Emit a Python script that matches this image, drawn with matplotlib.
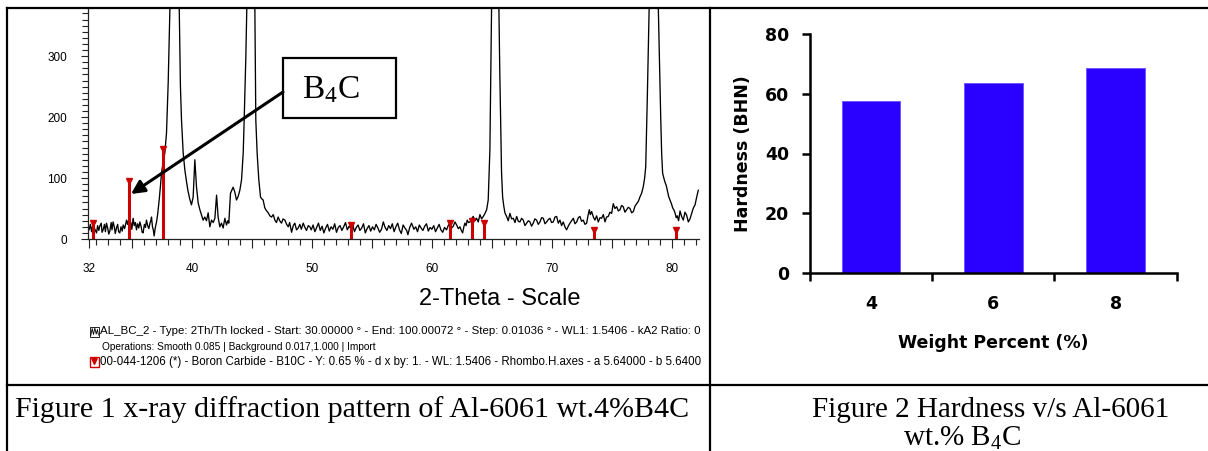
import matplotlib
matplotlib.use("Agg")
import matplotlib.pyplot as plt
from matplotlib.patches import Rectangle, Polygon
from matplotlib.ticker import MultipleLocator, FixedLocator

plt.rcParams['font.family'] = ['Liberation Sans', 'DejaVu Sans']
plt.rcParams['mathtext.fontset'] = 'custom'
plt.rcParams['mathtext.rm'] = 'Liberation Serif'
plt.rcParams['mathtext.it'] = 'Liberation Serif:italic'

# ---- XRD scan, (2-theta deg, counts) ----
scan_start = [
    (31.36, 20), (31.44, 15), (31.55, 24), (31.65, 12), (31.78, 26), (31.90, 17),
    (32.06, 10), (32.15, 22), (32.25, 14), (32.33, 21), (32.45, 26), (32.52, 11),
    (32.61, 15), (32.72, 24), (32.80, 12), (32.89, 26), (33.00, 17), (33.08, 8),
    (33.17, 13), (33.28, 27), (33.35, 15), (33.44, 28), (33.55, 19), (33.62, 9),
    (33.72, 18), (33.82, 24), (33.90, 12), (34.00, 10), (34.10, 20), (34.20, 13),
    (34.28, 23), (34.40, 17), (34.50, 26), (34.56, 31), (34.65, 24), (34.72, 30),
    (34.83, 21), (34.92, 27), (35.00, 16), (35.11, 34), (35.20, 22), (35.30, 27),
    (35.39, 15), (35.48, 25), (35.58, 18), (35.67, 28), (35.78, 20), (35.86, 11),
    (35.94, 10), (36.05, 24), (36.14, 19), (36.22, 31), (36.32, 22), (36.42, 17),
    (36.50, 25), (36.58, 30), (36.64, 36), (36.72, 20), (36.80, 14), (36.86, 5),
    (36.95, 18), (37.06, 28),
]
scan_al111_al200 = [
    (37.15, 40), (37.28, 64), (37.40, 90), (37.47, 108), (37.60, 125), (37.75, 141),
    (37.89, 174), (38.03, 256), (38.17, 375), (38.25, 600), (38.50, 2500),
    (38.85, 600), (38.95, 380), (39.05, 250), (39.14, 195), (39.28, 141),
    (39.42, 113), (39.55, 95), (39.67, 80), (39.82, 66), (39.97, 56), (40.11, 69),
    (40.25, 130), (40.33, 105), (40.39, 85), (40.53, 59), (40.67, 48), (40.80, 40),
    (40.94, 31), (41.08, 36), (41.22, 30), (41.36, 43), (41.50, 20), (41.64, 31),
    (41.78, 27), (41.92, 34), (42.06, 72), (42.19, 36), (42.33, 20), (42.47, 26),
    (42.61, 18), (42.75, 34), (42.89, 23), (43.00, 30), (43.08, 26), (43.22, 75),
    (43.33, 80), (43.44, 85), (43.58, 77), (43.72, 64), (43.86, 70), (44.00, 80),
    (44.14, 97), (44.28, 141), (44.36, 195), (44.50, 300), (44.58, 380),
    (44.90, 2800), (45.25, 380), (45.30, 260), (45.33, 195), (45.44, 141),
    (45.58, 97), (45.72, 69), (45.82, 66), (45.94, 64), (46.08, 51), (46.20, 47),
    (46.36, 43), (46.50, 38), (46.64, 36), (46.78, 40), (46.92, 31), (47.05, 27),
    (47.19, 36), (47.32, 30), (47.47, 26), (47.60, 33), (47.75, 31), (47.90, 24),
    (48.03, 20), (48.15, 27), (48.31, 11), (48.45, 22), (48.58, 26), (48.72, 15),
    (48.86, 18), (49.00, 24), (49.12, 16), (49.28, 26), (49.42, 19), (49.55, 14),
    (49.70, 22), (49.83, 20),
]
scan_mid = [
    (49.95, 15), (50.10, 23), (50.25, 12), (50.40, 19), (50.55, 26), (50.70, 14),
    (50.85, 21), (51.00, 10), (51.15, 18), (51.30, 24), (51.45, 13), (51.60, 20),
    (51.75, 16), (51.90, 25), (52.05, 11), (52.20, 19), (52.35, 22), (52.50, 14),
    (52.65, 20), (52.80, 27), (52.95, 15), (53.10, 21), (53.25, 17), (53.40, 24),
    (53.55, 12), (53.70, 19), (53.85, 23), (54.00, 14), (54.15, 18), (54.30, 25),
    (54.45, 10), (54.60, 17), (54.75, 22), (54.90, 13), (55.05, 20), (55.20, 15),
    (55.35, 24), (55.50, 18), (55.65, 11), (55.80, 16), (55.95, 28), (56.10, 19),
    (56.25, 14), (56.40, 22), (56.55, 17), (56.70, 25), (56.85, 12), (57.00, 20),
    (57.15, 26), (57.30, 15), (57.45, 9), (57.60, 23), (57.75, 18), (57.90, 14),
    (58.00, 7), (58.15, 19), (58.30, 26), (58.50, 16), (58.65, 20), (58.80, 12),
    (58.95, 23), (59.10, 18), (59.25, 14), (59.40, 21), (59.55, 25), (59.70, 13),
    (59.85, 19), (60.00, 16), (60.15, 22), (60.30, 12), (60.45, 18), (60.60, 24),
    (60.75, 15), (60.90, 11), (61.05, 19), (61.22, 15), (61.36, 22), (61.50, 26),
    (61.64, 18), (61.78, 21), (61.92, 28), (62.06, 23), (62.20, 17), (62.33, 20),
    (62.45, 14), (62.56, 10), (62.66, 20), (62.75, 26), (62.85, 22), (62.94, 31),
    (63.05, 27), (63.17, 28), (63.30, 33), (63.44, 37), (63.58, 30), (63.72, 34),
    (63.86, 28), (64.00, 40), (64.14, 33), (64.28, 37), (64.42, 42), (64.56, 48),
]
scan_al220 = [
    (64.69, 64), (64.83, 146), (64.90, 260), (64.97, 380), (65.25, 2600),
    (65.58, 380), (65.65, 280), (65.72, 200), (65.80, 110), (65.89, 69),
    (65.98, 55), (66.08, 43), (66.22, 37), (66.36, 30), (66.50, 42), (66.64, 33),
    (66.78, 34), (66.92, 27), (67.06, 37), (67.20, 29), (67.33, 28), (67.47, 34),
    (67.61, 31), (67.75, 22), (67.89, 26), (68.03, 30), (68.17, 28), (68.30, 21),
    (68.44, 26), (68.58, 33), (68.72, 31), (68.86, 24), (69.00, 28), (69.14, 35),
    (69.28, 34), (69.42, 25), (69.56, 28), (69.70, 32), (69.83, 34), (69.97, 27),
    (70.11, 28), (70.25, 36), (70.39, 37), (70.53, 26), (70.67, 31), (70.80, 22),
    (70.94, 28), (71.08, 20), (71.22, 15), (71.36, 21), (71.50, 26), (71.64, 30),
    (71.78, 34), (71.92, 25), (72.06, 28), (72.20, 35), (72.33, 37), (72.47, 29),
    (72.61, 31), (72.75, 24), (72.89, 26), (73.00, 38), (73.11, 48), (73.20, 40),
    (73.31, 45), (73.45, 36), (73.58, 31), (73.72, 38), (73.86, 28), (74.00, 35),
    (74.14, 34), (74.28, 40), (74.42, 28), (74.55, 36), (74.69, 37), (74.83, 44),
    (74.97, 42), (75.11, 58), (75.25, 50), (75.39, 53), (75.53, 46), (75.67, 48),
    (75.80, 55), (75.94, 53), (76.08, 44), (76.22, 48), (76.36, 52), (76.50, 50),
    (76.64, 43), (76.78, 45), (76.92, 54), (77.06, 58), (77.20, 62), (77.33, 69),
]
scan_al311 = [
    (77.47, 75), (77.61, 86), (77.72, 100), (77.81, 118), (77.94, 228),
    (78.05, 330), (78.11, 380), (78.45, 2300), (78.86, 380), (78.95, 300),
    (79.06, 200), (79.14, 140), (79.22, 108), (79.32, 100), (79.42, 93),
    (79.52, 88), (79.61, 80), (79.72, 70), (79.83, 64), (79.95, 58), (80.06, 51),
    (80.15, 48), (80.25, 43), (80.35, 35), (80.44, 38), (80.55, 30), (80.67, 46),
    (80.80, 37), (80.94, 31), (81.08, 44), (81.22, 39), (81.36, 28), (81.50, 33),
    (81.64, 42), (81.78, 51), (81.92, 56), (82.06, 69), (82.19, 80),
]
scan = scan_start + scan_al111_al200 + scan_mid + scan_al220 + scan_al311
two_theta = [p[0] for p in scan]
counts = [p[1] for p in scan]

# B4C reference pattern (00-044-1206)
b4c_pos = [31.78, 34.78, 37.60, 53.25, 61.50, 63.33, 64.30, 73.50, 80.30]
b4c_int = [26, 95, 148, 23, 26, 29, 26, 15, 15]

xrd_ticks = [31.4, 35, 40, 45, 50, 55, 60, 65, 70, 75, 80]
xrd_tick_labels = ['32', '', '40', '', '50', '', '60', '', '70', '', '80']

# ---- Hardness ----
weight_pct = ['4', '6', '8']
hardness = [57.7, 63.8, 68.6]

W, H = 1208, 451
fig = plt.figure(figsize=(W / 100, H / 100), dpi=100)


def px_box(l, t, r, b):
    return [l / W, 1 - b / H, (r - l) / W, (b - t) / H]


# ---------- XRD pattern ----------
ax1 = fig.add_axes(px_box(88, 8, 699, 239))
ax1.plot(two_theta, counts, color='black', lw=0.95)
ax1.vlines(b4c_pos, 0, b4c_int, color='#cc0000', lw=2.2)
ax1.plot(b4c_pos, b4c_int, 'v', color='#cc0000', ms=5, mec='#cc0000')
ax1.set_xlim(31.35, 82.25)
ax1.set_ylim(0, 379)
for s in ['top', 'right']:
    ax1.spines[s].set_visible(False)
for s in ['left', 'bottom']:
    ax1.spines[s].set_color('#222222')
    ax1.spines[s].set_linewidth(0.9)
ax1.set_yticks([0, 100, 200, 300])
ax1.yaxis.set_minor_locator(MultipleLocator(10))
ax1.xaxis.set_major_locator(FixedLocator(xrd_ticks))
ax1.set_xticklabels(xrd_tick_labels)
ax1.xaxis.set_minor_locator(MultipleLocator(1))
ax1.tick_params(axis='y', which='major', length=5, width=0.8, color='#222222',
                labelsize=8.5, pad=10)
ax1.tick_params(axis='y', which='minor', length=4, width=0.8, color='#222222')
ax1.tick_params(axis='x', which='major', length=6.5, width=0.8, color='#222222',
                labelsize=8.5, pad=11)
ax1.tick_params(axis='x', which='minor', length=4.5, width=0.8, color='#222222')

# ---------- Hardness bars ----------
ax2 = fig.add_axes(px_box(810, 34.3, 1176.7, 272.7))
ax2.bar(range(len(hardness)), hardness, width=0.48, color='#2a00ff',
        edgecolor='#6a50ff', lw=0.6)
ax2.set_xlim(-0.5, 2.5)
ax2.set_ylim(0, 80)
for s in ['top', 'right']:
    ax2.spines[s].set_visible(False)
for s in ['left', 'bottom']:
    ax2.spines[s].set_linewidth(1.8)
ax2.set_yticks([0, 20, 40, 60, 80])
ax2.set_xticks(range(len(weight_pct)))
ax2.set_xticklabels(weight_pct)
ax2.xaxis.set_minor_locator(FixedLocator([-0.5, 0.5, 1.5, 2.5]))
bold = dict(family='DejaVu Sans', weight='bold', size=12.5)
for lab in ax2.get_xticklabels() + ax2.get_yticklabels():
    lab.set_fontproperties(bold)
ax2.tick_params(axis='y', length=6, width=1.8, pad=9)
ax2.tick_params(axis='x', which='major', length=0, pad=16)
ax2.tick_params(axis='x', which='minor', length=6, width=1.8)
ax2.set_ylabel('Hardness (BHN)', fontdict=bold, labelpad=9)
ax2.set_xlabel('Weight Percent (%)', fontdict=bold, labelpad=15)

# ---------- page overlay: table, legend, annotation, captions ----------
ov = fig.add_axes([0, 0, 1, 1], zorder=5)
ov.set_xlim(0, W)
ov.set_ylim(H, 0)
ov.axis('off')

lw_tab = 1.6
ov.plot([7, W], [7.5, 7.5], color='black', lw=lw_tab)
ov.plot([7, W], [385, 385], color='black', lw=lw_tab)
ov.plot([7, 7], [7.5, H], color='black', lw=lw_tab)
ov.plot([709.5, 709.5], [7.5, H], color='black', lw=lw_tab)

# B4C call-out
ov.add_patch(Rectangle((283, 58), 113, 60, facecolor='white', edgecolor='black', lw=1.6))
ov.text(331, 90, r'B$_4$C', family='Liberation Serif', fontsize=24,
        ha='center', va='center')
ov.annotate('', xy=(131, 194), xytext=(283, 92),
            arrowprops=dict(arrowstyle='-|>', lw=2.2, color='black',
                            mutation_scale=20, shrinkA=0, shrinkB=0))

ov.text(500, 299, '2-Theta - Scale', fontsize=17, ha='center', va='center')

# legend of the diffractogram (cut off at the cell border, as in the scan)
clip = Rectangle((0, 0), 701, H, transform=ov.transData)
ov.add_patch(Rectangle((90, 326.5), 9, 10, facecolor='white', edgecolor='black', lw=0.6))
ov.plot([90.8, 92.2, 93.5, 94.8, 96.2, 97.5, 98.4],
        [335.5, 328.5, 334.5, 328, 334, 329.5, 335], color='black', lw=0.6)
ov.add_patch(Rectangle((90, 356.5), 9, 10, facecolor='white', edgecolor='#cc0000', lw=1.0))
ov.add_patch(Polygon([(91.8, 358.5), (97.2, 358.5), (94.5, 364.5)], color='#cc0000'))
legend_lines = [
    (99.5, 331.5, 8.25, 'AL_BC_2 - Type: 2Th/Th locked - Start: 30.00000 \u00b0 - End: 100.00072 \u00b0 '
                        '- Step: 0.01036 \u00b0 - WL1: 1.5406 - kA2 Ratio: 0.5 - Generator kV'),
    (102, 346.5, 7.3, 'Operations: Smooth 0.085 | Background 0.017,1.000 | Import'),
    (100.5, 361.5, 8.3, '00-044-1206 (*) - Boron Carbide - B10C - Y: 0.65 % - d x by: 1. - '
                        'WL: 1.5406 - Rhombo.H.axes - a 5.64000 - b 5.64000 - c 12.1'),
]
for x, y, fs, s in legend_lines:
    t = ov.text(x, y, s, fontsize=fs, ha='left', va='center')
    t.set_clip_on(True)
    t.set_clip_path(clip)

# captions
cap = dict(family='Liberation Serif', va='baseline')
ov.text(15, 417, 'Figure 1 x-ray diffraction pattern of Al-6061 wt.4%B4C',
        ha='left', fontsize=21.6, **cap)
ov.text(991, 417, 'Figure 2 Hardness v/s Al-6061', ha='center', fontsize=21, **cap)
ov.text(903, 446, r'wt.% B$_4$C', ha='left', fontsize=21, **cap)

fig.savefig('out.png', dpi=100)
